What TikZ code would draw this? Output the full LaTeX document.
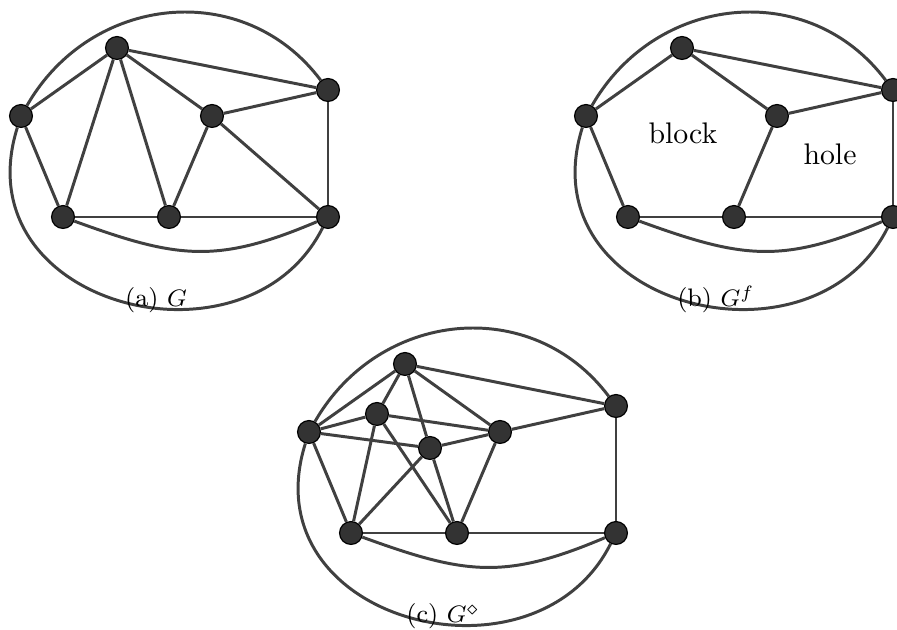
\documentclass[tikz,border=0pt]{standalone}
\begin{document}
\begin{tikzpicture}[x=0.118cm, y=0.118cm, line width=1pt,
  every node/.style={font=\small},
  vert/.style={circle, draw=black, line width=0.4pt, fill=black!80, minimum size=2.7mm, inner sep=0pt},
  edge/.style={draw=black!75},
  subcap/.style={anchor=base, inner sep=0pt, font=\fontsize{8.5}{10}\selectfont},
  face/.style={anchor=base, inner sep=0pt, font=\normalsize}]
\useasboundingbox (-6.3,-41.3) rectangle (83.4,21.7);

% (a) the graph G
\node[vert] (aL) at (-4.2,10.1) {};
\node[vert] (aT) at (5.4,16.9) {};
\node[vert] (aM) at (14.9,10.1) {};
\node[vert] (aRT) at (26.5,12.7) {};
\node[vert] (aBL) at (0,0) {};
\node[vert] (aBM) at (10.6,0) {};
\node[vert] (aBR) at (26.5,0) {};
\draw[edge] (aT) -- (aL) (aT) -- (aBL) (aT) -- (aBM) (aT) -- (aM) (aT) -- (aRT);
\draw[edge] (aL) -- (aBL) (aM) -- (aRT) (aM) -- (aBM) (aM) -- (aBR);
\draw[edge] (aRT) -- (aBR) (aBL) -- (aBM) (aBM) -- (aBR);
\draw[edge] (aBL) to[out=-20, in=-157, looseness=1.15] (aBR);
\draw[edge] (aL) .. controls +(7,12.2) and +(-8.4,11.2) .. (aRT);
\draw[edge] (aL) .. controls +(-6,-19) and +(-8.1,-16.2) .. (aBR);
\node[subcap] (capa) at (9.3,-9.0) {(a) $G$};

% (b) the graph G^f
\begin{scope}[shift={(56.5,0)}]
\node[vert] (bL) at (-4.2,10.1) {};
\node[vert] (bT) at (5.4,16.9) {};
\node[vert] (bM) at (14.9,10.1) {};
\node[vert] (bRT) at (26.5,12.7) {};
\node[vert] (bBL) at (0,0) {};
\node[vert] (bBM) at (10.6,0) {};
\node[vert] (bBR) at (26.5,0) {};
\draw[edge] (bT) -- (bL) (bT) -- (bM) (bT) -- (bRT);
\draw[edge] (bL) -- (bBL) (bM) -- (bRT) (bM) -- (bBM);
\draw[edge] (bRT) -- (bBR) (bBL) -- (bBM) (bBM) -- (bBR);
\draw[edge] (bBL) to[out=-20, in=-157, looseness=1.15] (bBR);
\draw[edge] (bL) .. controls +(7,12.2) and +(-8.4,11.2) .. (bRT);
\draw[edge] (bL) .. controls +(-6,-19) and +(-8.1,-16.2) .. (bBR);
\node[face] (block) at (5.5,7.3) {block};
\node[face] (hole) at (20.2,5.2) {hole};
\node[subcap] (capb) at (8.8,-9.0) {(b) $G^f$};
\end{scope}

% (c) the graph G^diamond
\begin{scope}[shift={(28.8,-31.6)}]
\node[vert] (cL) at (-4.2,10.1) {};
\node[vert] (cT) at (5.4,16.9) {};
\node[vert] (cM) at (14.9,10.1) {};
\node[vert] (cRT) at (26.5,12.7) {};
\node[vert] (cBL) at (0,0) {};
\node[vert] (cBM) at (10.6,0) {};
\node[vert] (cBR) at (26.5,0) {};
\node[vert] (cX) at (2.6,11.9) {};
\node[vert] (cY) at (7.9,8.5) {};
\draw[edge] (cT) -- (cL) (cT) -- (cX) (cT) -- (cY) (cT) -- (cM) (cT) -- (cRT);
\draw[edge] (cL) -- (cX) (cL) -- (cY) (cL) -- (cBL);
\draw[edge] (cX) -- (cM) (cX) -- (cBL) (cX) -- (cBM);
\draw[edge] (cY) -- (cM) (cY) -- (cBL) (cY) -- (cBM);
\draw[edge] (cM) -- (cRT) (cM) -- (cBM);
\draw[edge] (cRT) -- (cBR) (cBL) -- (cBM) (cBM) -- (cBR);
\draw[edge] (cBL) to[out=-20, in=-157, looseness=1.15] (cBR);
\draw[edge] (cL) .. controls +(7,12.2) and +(-8.4,11.2) .. (cRT);
\draw[edge] (cL) .. controls +(-6,-19) and +(-8.1,-16.2) .. (cBR);
\node[subcap] (capc) at (9.2,-9.0) {(c) $G^\diamond$};
\end{scope}
\end{tikzpicture}
\end{document}
